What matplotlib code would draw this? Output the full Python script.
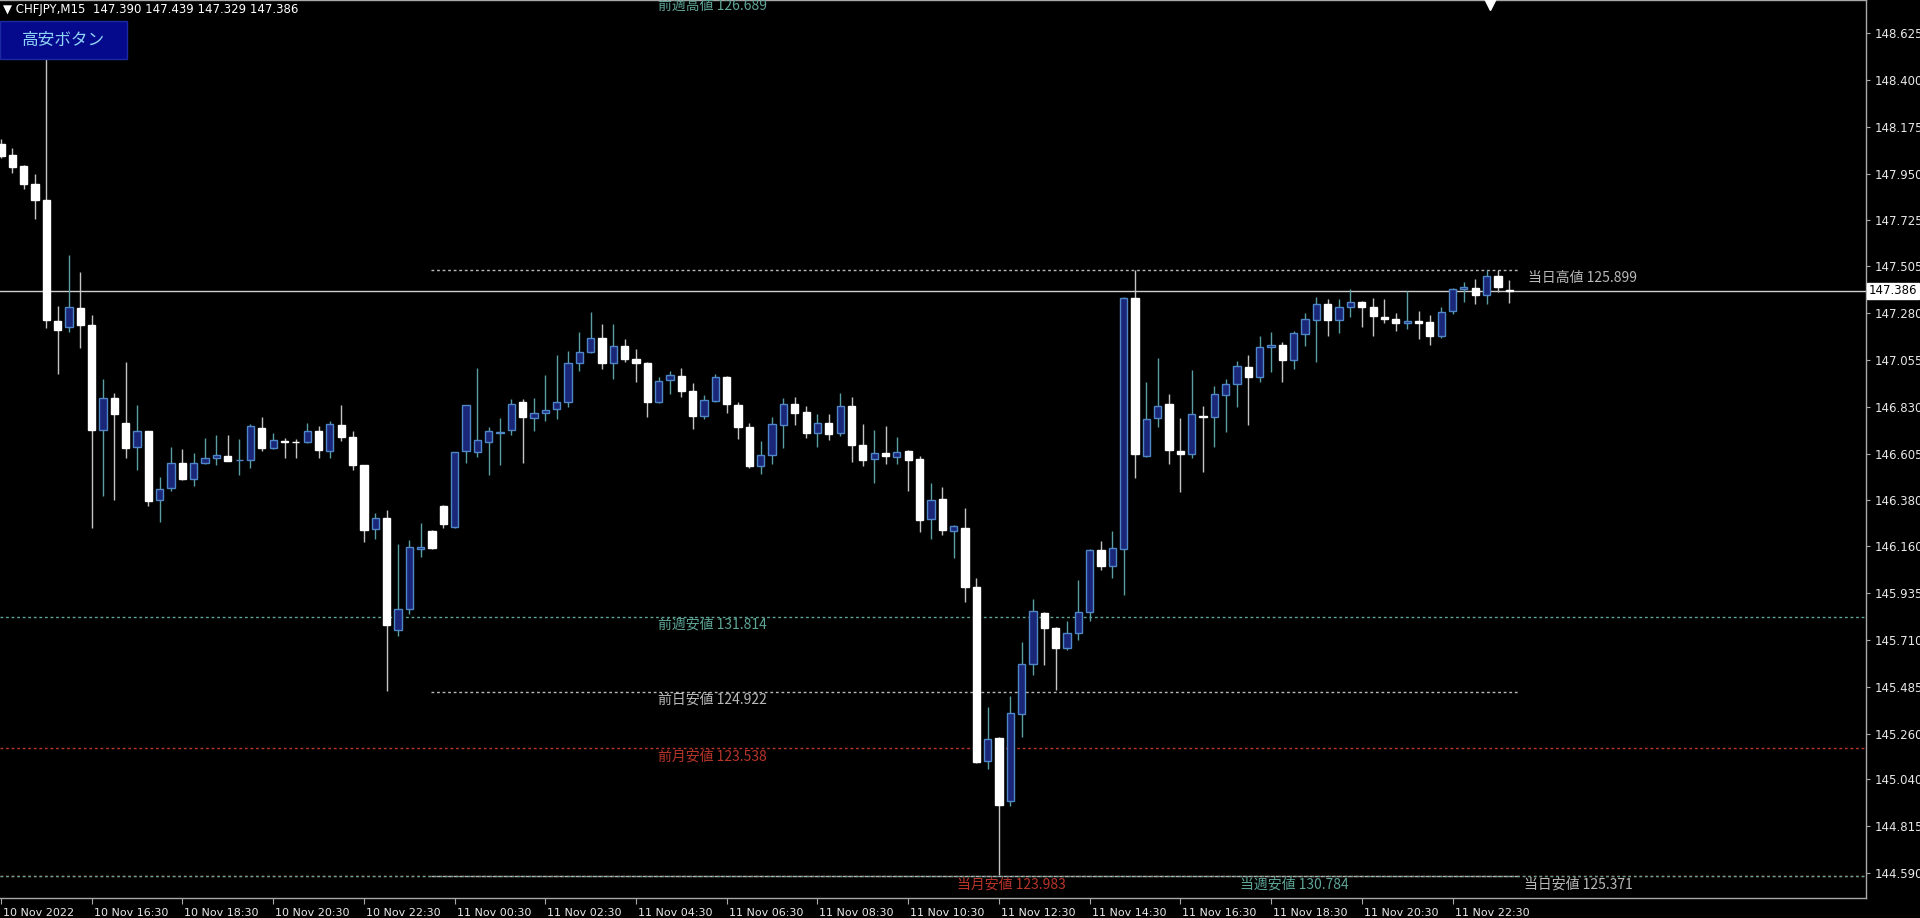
import matplotlib
matplotlib.use("Agg")
import matplotlib.pyplot as plt
import matplotlib.transforms as mtransforms
from matplotlib.patches import Rectangle
import numpy as np

plt.rcParams['font.family'] = ['DejaVu Sans', 'Noto Sans CJK JP']

# --- data (CHFJPY M15, 10 Nov 14:30 .. 11 Nov 23:45) ---
symbol = "CHFJPY,M15"
last_ohlc = ["147.390", "147.439", "147.329", "147.386"]
bid = 147.386

opens = [148.094, 148.037, 147.987, 147.902, 147.821, 147.243, 147.211, 147.303, 147.223, 146.719,
         146.874, 146.751, 146.638, 146.713, 146.380, 146.441, 146.558, 146.481, 146.560, 146.584,
         146.594, 146.572, 146.572, 146.729, 146.632, 146.667, 146.662, 146.662, 146.713, 146.616,
         146.741, 146.683, 146.551, 146.243, 146.295, 145.758, 145.857, 146.145, 146.235, 146.355,
         146.254, 146.619, 146.611, 146.659, 146.704, 146.718, 146.851, 146.774, 146.798, 146.817,
         146.854, 147.038, 147.094, 147.162, 147.038, 147.123, 147.058, 147.038, 146.851, 146.958,
         146.979, 146.907, 146.785, 146.857, 146.973, 146.837, 146.731, 146.545, 146.598, 146.741,
         146.841, 146.803, 146.705, 146.750, 146.705, 146.832, 146.646, 146.579, 146.610, 146.589,
         146.619, 146.581, 146.291, 146.386, 146.234, 146.249, 145.962, 145.128, 145.237, 144.936,
         145.356, 145.594, 145.839, 145.768, 145.673, 145.744, 145.846, 146.142, 146.063, 146.148,
         147.350, 146.593, 146.774, 146.843, 146.619, 146.601, 146.785, 146.779, 146.885, 146.939,
         147.022, 146.971, 147.115, 147.125, 147.054, 147.178, 147.245, 147.323, 147.245, 147.311,
         147.335, 147.307, 147.259, 147.251, 147.232, 147.242, 147.235, 147.170, 147.290, 147.394,
         147.399, 147.367, 147.458, 147.390]
highs = [148.118, 148.073, 147.993, 147.948, 148.550, 147.313, 147.557, 147.475, 147.271, 146.961,
         146.894, 147.045, 146.838, 146.713, 146.491, 146.636, 146.626, 146.608, 146.679, 146.693,
         146.693, 146.676, 146.749, 146.779, 146.703, 146.679, 146.673, 146.753, 146.737, 146.759,
         146.840, 146.713, 146.551, 146.320, 146.334, 146.169, 146.190, 146.273, 146.238, 146.358,
         146.614, 146.840, 147.014, 146.734, 146.774, 146.869, 146.866, 146.870, 146.981, 147.077,
         147.099, 147.191, 147.283, 147.226, 147.226, 147.154, 147.107, 147.046, 146.971, 147.003,
         147.014, 146.942, 146.886, 146.987, 146.978, 146.851, 146.750, 146.667, 146.779, 146.870,
         146.879, 146.832, 146.794, 146.794, 146.895, 146.879, 146.746, 146.718, 146.735, 146.684,
         146.623, 146.594, 146.462, 146.446, 146.262, 146.342, 146.006, 145.388, 145.246, 145.440,
         145.698, 145.907, 145.844, 145.772, 145.800, 146.000, 146.148, 146.186, 146.234, 147.358,
         147.487, 146.950, 147.062, 146.889, 146.774, 147.006, 146.833, 146.930, 146.963, 147.050,
         147.077, 147.170, 147.191, 147.142, 147.194, 147.279, 147.355, 147.346, 147.346, 147.394,
         147.339, 147.351, 147.346, 147.282, 147.387, 147.291, 147.271, 147.311, 147.399, 147.431,
         147.443, 147.487, 147.487, 147.439]
lows = [148.023, 147.952, 147.876, 147.731, 147.207, 146.989, 147.187, 147.112, 146.249, 146.400,
        146.384, 146.582, 146.525, 146.354, 146.275, 146.425, 146.477, 146.451, 146.556, 146.552,
        146.570, 146.501, 146.535, 146.618, 146.628, 146.586, 146.582, 146.656, 146.586, 146.586,
        146.666, 146.525, 146.182, 146.193, 145.463, 145.729, 145.834, 146.110, 146.148, 146.246,
        146.246, 146.558, 146.590, 146.502, 146.550, 146.694, 146.558, 146.713, 146.761, 146.771,
        146.827, 147.003, 147.086, 147.010, 146.962, 147.046, 146.950, 146.782, 146.846, 146.891,
        146.878, 146.721, 146.769, 146.854, 146.798, 146.673, 146.534, 146.507, 146.555, 146.632,
        146.741, 146.680, 146.636, 146.670, 146.689, 146.566, 146.547, 146.465, 146.553, 146.556,
        146.427, 146.228, 146.196, 146.215, 146.105, 145.892, 145.117, 145.088, 144.581, 144.914,
        145.246, 145.540, 145.588, 145.470, 145.660, 145.711, 145.801, 146.044, 146.009, 145.926,
        146.486, 146.590, 146.734, 146.553, 146.422, 146.585, 146.518, 146.638, 146.710, 146.830,
        146.742, 146.947, 146.995, 146.950, 147.010, 147.122, 147.046, 147.171, 147.186, 147.259,
        147.215, 147.171, 147.231, 147.195, 147.203, 147.155, 147.126, 147.162, 147.274, 147.335,
        147.323, 147.323, 147.379, 147.329]
closes = [148.033, 147.983, 147.902, 147.821, 147.247, 147.197, 147.307, 147.223, 146.719, 146.874,
          146.793, 146.634, 146.711, 146.376, 146.437, 146.560, 146.481, 146.560, 146.582, 146.596,
          146.570, 146.576, 146.735, 146.634, 146.668, 146.659, 146.659, 146.713, 146.622, 146.745,
          146.683, 146.551, 146.239, 146.297, 145.781, 145.857, 146.158, 146.155, 146.150, 146.265,
          146.611, 146.837, 146.670, 146.713, 146.710, 146.843, 146.779, 146.798, 146.813, 146.854,
          147.038, 147.094, 147.162, 147.038, 147.123, 147.059, 147.042, 146.854, 146.955, 146.982,
          146.907, 146.785, 146.862, 146.971, 146.841, 146.731, 146.545, 146.598, 146.745, 146.845,
          146.800, 146.705, 146.750, 146.701, 146.832, 146.646, 146.575, 146.610, 146.591, 146.613,
          146.575, 146.285, 146.380, 146.239, 146.256, 145.962, 145.122, 145.236, 144.919, 145.360,
          145.594, 145.848, 145.766, 145.673, 145.744, 145.846, 146.142, 146.063, 146.152, 147.354,
          146.601, 146.771, 146.833, 146.622, 146.601, 146.793, 146.779, 146.889, 146.939, 147.027,
          146.971, 147.115, 147.125, 147.054, 147.182, 147.250, 147.323, 147.248, 147.311, 147.335,
          147.307, 147.266, 147.250, 147.232, 147.242, 147.234, 147.170, 147.283, 147.394, 147.407,
          147.368, 147.458, 147.403, 147.386]

# time axis labels (every 8 bars = 2 hours)
xtick_bars = [0, 8, 16, 24, 32, 40, 48, 56, 64, 72, 80, 88, 96, 104, 112, 120, 128]
xtick_labels = ["10 Nov 2022", "10 Nov 16:30", "10 Nov 18:30", "10 Nov 20:30", "10 Nov 22:30",
                "11 Nov 00:30", "11 Nov 02:30", "11 Nov 04:30", "11 Nov 06:30", "11 Nov 08:30",
                "11 Nov 10:30", "11 Nov 12:30", "11 Nov 14:30", "11 Nov 16:30", "11 Nov 18:30",
                "11 Nov 20:30", "11 Nov 22:30"]
ytick_vals = [148.625, 148.400, 148.175, 147.950, 147.725, 147.505, 147.280, 147.055, 146.830,
              146.605, 146.380, 146.160, 145.935, 145.710, 145.485, 145.260, 145.040, 144.815, 144.590]

# high/low level objects drawn by the indicator
level_names = ["前週高値", "前週安値", "前日安値", "前月安値", "当月安値", "当週安値", "当日安値", "当日高値"]
level_texts = ["126.689", "131.814", "124.922", "123.538", "123.983", "130.784", "125.371", "125.899"]
level_prices = [148.792, 145.821, 145.460, 145.189, 144.576, 144.576, 144.576, 147.487]

# --- style ---
BG = "black"
BULL_BODY, BULL_EDGE, BULL_WICK = "#1a2778", "#4f86c6", "#5a9ea4"
BEAR_BODY, BEAR_WICK = "#ffffff", "#c4c4c4"
kind_color = {"週": "#5ea596", "日": "#b9b9b9", "月": "#b8352a"}
day_start, day_end = 37.9, 133.8
label_x = {"前週高値": 57.9, "前週安値": 57.9, "前日安値": 57.9, "前月安値": 57.9,
           "当月安値": 84.3, "当週安値": 109.3, "当日安値": 134.3, "当日高値": 134.7}

W, H = 1920, 918
fig = plt.figure(figsize=(W / 100, H / 100), dpi=100, facecolor=BG)
ax = fig.add_axes([0, 20 / H, 1866 / W, 898 / H], facecolor=BG)

o = np.array(opens); h = np.array(highs); l = np.array(lows); c = np.array(closes)
idx = np.arange(len(o))
bull = c > o

wick_cols = [BULL_WICK if b else BEAR_WICK for b in bull]
ax.vlines(idx, l, h, colors=wick_cols, lw=1, zorder=3)
body_cols = [BULL_BODY if b else BEAR_BODY for b in bull]
edge_cols = [BULL_EDGE if b else BEAR_BODY for b in bull]
ax.bar(idx, np.abs(c - o), bottom=np.minimum(o, c), width=0.64, color=body_cols,
       edgecolor=edge_cols, linewidth=1, zorder=4)

# bid line
ax.axhline(bid, color="#cfcfcf", lw=1, zorder=2)

# level lines + labels
dot = (0, (2, 2))
for name, txt, p in zip(level_names, level_texts, level_prices):
    col = kind_color[name[1]]
    if name[1] == "日":
        ax.hlines(p, day_start, day_end, colors=col, lw=1, linestyles=dot, zorder=2)
    else:
        ax.axhline(p, color=col, lw=1, linestyle=dot, zorder=1)
    ax.text(label_x[name], p - 0.005, name + " " + txt, color=col, fontsize=10,
            family=['Noto Sans CJK JP', 'DejaVu Sans'], ha='left', va='top', zorder=5, clip_on=True)

ax.set_xlim(-1 / 11.34, 1865 / 11.34)
ax.set_ylim(144.4703, 148.7835)

# axes / ticks
ax.spines["left"].set_visible(False)
for s in ["right", "bottom", "top"]:
    ax.spines[s].set_color("#a8a8a8")
    ax.spines[s].set_linewidth(1)

ax.yaxis.tick_right()
ax.set_yticks(ytick_vals)
ax.set_yticklabels([f"{v:.3f}" for v in ytick_vals])
ax.tick_params(axis="y", colors="#a8a8a8", labelcolor="#e8e8e8", length=3, labelsize=8.5, pad=3)
ax.set_xticks(xtick_bars)
ax.set_xticklabels(xtick_labels)
ax.tick_params(axis="x", colors="#a8a8a8", labelcolor="#e8e8e8", length=4, labelsize=8, pad=3)
offset = mtransforms.ScaledTranslation(2 / 100, 0, fig.dpi_scale_trans)
for lbl in ax.get_xticklabels():
    lbl.set_ha("left")
    lbl.set_transform(lbl.get_transform() + offset)

# current price box
ax.text(1.0015, bid, f"{bid:.3f}", transform=mtransforms.blended_transform_factory(ax.transAxes, ax.transData),
        ha="left", va="center", color="black", fontsize=8.5,
        bbox=dict(boxstyle="square,pad=0.15", fc="white", ec="white"), clip_on=False, zorder=6)

# chart shift marker
ax.plot([131.3], [0.996], marker="v", color="white", ms=8, ls="none",
        transform=mtransforms.blended_transform_factory(ax.transData, ax.transAxes), clip_on=False, zorder=6)

# header + button
fig.text(3 / W, 1 - 10 / H, "▼ " + symbol + "  " + " ".join(last_ohlc), color="white", fontsize=8.5,
         ha="left", va="center")
fig.patches.append(Rectangle((0, 1 - 59 / H), 127 / W, 38 / H, transform=fig.transFigure,
                             facecolor="#050a8c", edgecolor="#1a2aa0", lw=1, zorder=10))
fig.text(63 / W, 1 - 40 / H, "高安ボタン", color="#8fd3f5", fontsize=12, ha="center", va="center",
         family=['Noto Sans CJK JP', 'DejaVu Sans'], zorder=11)

fig.savefig("out.png", dpi=100, facecolor=BG)
